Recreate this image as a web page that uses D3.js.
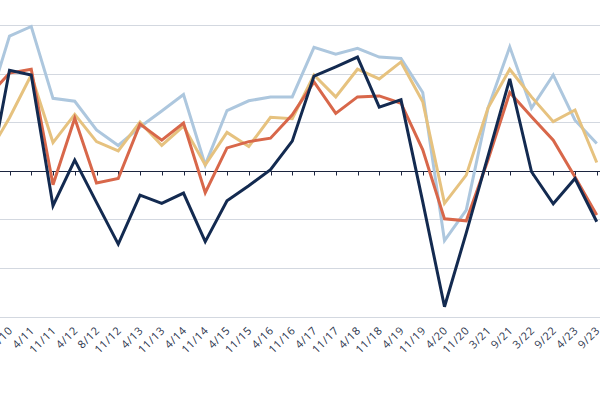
<!DOCTYPE html>
<html>
<head>
<meta charset="utf-8">
<script src="https://cdn.jsdelivr.net/npm/d3@7"></script>
<style>
    body { margin: 0; background: #fff; }
    #chart text { font-family: "Open Sans", "DejaVu Sans", sans-serif; }
</style>
</head>
<body>
<div id="chart"></div>
<script>
const labels = ['4/10', '11/10', '4/11', '11/11', '4/12', '8/12', '11/12', '4/13', '11/13', '4/14', '11/14',
    '4/15', '11/15', '4/16', '11/16', '4/17', '11/17', '4/18', '11/18', '4/19', '11/19',
    '4/20', '11/20', '3/21', '9/21', '3/22', '9/22', '4/23', '9/23'];

const lightBlue = [13.1, 27.7, 29.7, 14.9, 14.3, 8.4, 5.2, 9.0, 12.3, 15.7, 1.2,
    12.4, 14.4, 15.2, 15.2, 25.4, 24.0, 25.2, 23.4, 23.1, 16.1,
    -14.4, -8.1, 12.9, 25.5, 12.9, 19.7, 10.4, 5.6];

const tan = [3.2, 10.9, 19.7, 5.8, 11.6, 6.0, 4.1, 10.0, 5.2, 9.2, 1.2,
    7.9, 5.0, 11.0, 10.7, 19.7, 15.2, 20.9, 18.9, 22.4, 14.2,
    -6.7, -0.9, 12.9, 20.9, 15.2, 10.1, 12.5, 1.7];

const orange = [15.2, 20.1, 20.9, -2.9, 10.8, -2.5, -1.6, 9.6, 6.3, 9.8, -4.5,
    4.7, 6.0, 6.7, 11.5, 18.3, 11.8, 15.2, 15.4, 13.9, 4.3,
    -9.9, -10.3, 2.2, 16.1, 11.1, 6.3, -1.3, -9.1];

const navy = [-3.1, 20.7, 19.7, -7.2, 2.2, -6.5, -15.1, -5.0, -6.7, -4.6, -14.6,
    -6.2, -3.1, 0.2, 6.1, 19.5, 21.4, 23.4, 13.1, 14.6, -6.4,
    -28.0, -12.8, 3.0, 18.9, -0.2, -6.8, -1.6, -10.5];

const gridValues = [-30, -20, -10, 10, 20, 30];

const width = 600, height = 394;

const svg = d3.select("#chart")
    .append("svg")
    .attr("width", width)
    .attr("height", height);

// chart is cropped: first category sits left of the visible area
const x = d3.scalePoint()
    .domain(labels)
    .range([-12.25, 596.75]);

const y = d3.scaleLinear()
    .domain([-30, 30])
    .range([316.5, 25]);

svg.append("g")
    .selectAll("line")
    .data(gridValues)
    .join("line")
    .attr("x1", 0)
    .attr("x2", width)
    .attr("y1", d => Math.round(y(d)) + 0.5)
    .attr("y2", d => Math.round(y(d)) + 0.5)
    .attr("stroke", "#d3d8e0")
    .attr("stroke-width", 1);

// zero line with tick marks
const axis = svg.append("g")
    .attr("transform", `translate(0, ${Math.round(y(0)) + 0.5})`);
axis.append("line")
    .attr("x1", 0)
    .attr("x2", width)
    .attr("stroke", "#1c2540")
    .attr("stroke-width", 1);
axis.selectAll(".tick")
    .data(labels)
    .join("line")
    .attr("class", "tick")
    .attr("x1", d => Math.round(x(d)) + 0.5)
    .attr("x2", d => Math.round(x(d)) + 0.5)
    .attr("y1", 0)
    .attr("y2", 4)
    .attr("stroke", "#1c2540")
    .attr("stroke-width", 1);

svg.append("g")
    .selectAll("text")
    .data(labels)
    .join("text")
    .attr("transform", d => `translate(${x(d) + 4}, 331) rotate(-45)`)
    .attr("text-anchor", "end")
    .attr("font-size", 11)
    .attr("letter-spacing", 0.7)
    .attr("fill", "#2b344c")
    .text(d => d);

const line = d3.line()
    .x((d, i) => x(labels[i]))
    .y(d => y(d));

const series = [
    {values: lightBlue, color: "#adc7de"},
    {values: tan, color: "#e6c27f"},
    {values: orange, color: "#d8674a"},
    {values: navy, color: "#132a50"}
];

series.forEach(s => {
    svg.append("path")
        .datum(s.values)
        .attr("fill", "none")
        .attr("stroke", s.color)
        .attr("stroke-width", 3)
        .attr("stroke-linejoin", "miter")
        .attr("d", line);
});
</script>
</body>
</html>
